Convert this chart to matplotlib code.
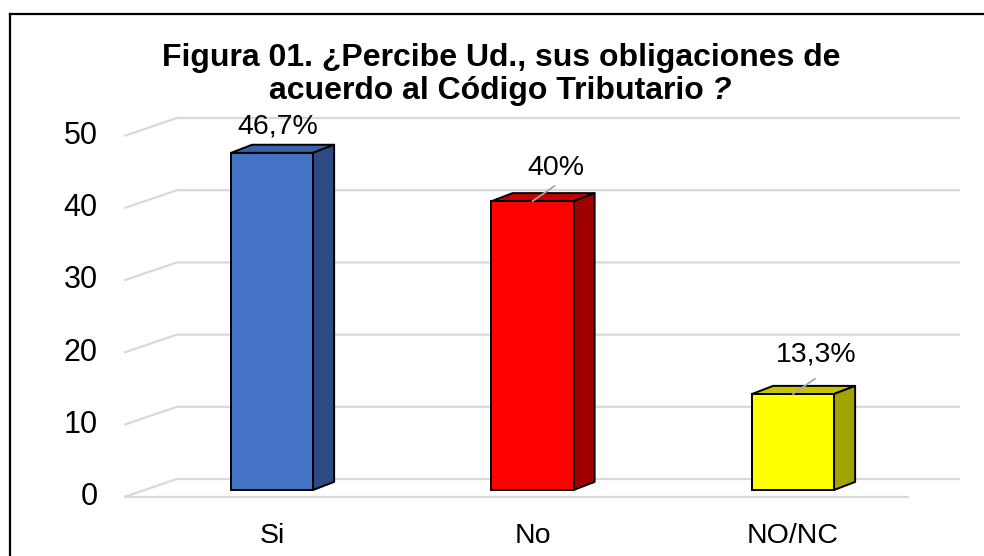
import matplotlib
matplotlib.use("Agg")
import matplotlib.pyplot as plt
from matplotlib.patches import Polygon
from matplotlib.lines import Line2D

# ---- data ----
categories = ["Si", "No", "NO/NC"]
values = [46.7, 40.0, 13.3]
value_labels = ["46,7%", "40%", "13,3%"]
y_ticks = [0, 10, 20, 30, 40, 50]
title_line1 = "Figura 01. ¿Percibe Ud., sus obligaciones de"
title_line2 = "acuerdo al Código Tributario"

# ---- style ----
front_colors = ["#4472C4", "#FF0000", "#FFFF00"]
top_colors = ["#3A62A8", "#C40000", "#C4C400"]
side_colors = ["#2C4B82", "#A00000", "#A3A300"]
label_offsets = [(0.023, 3.6, False), (0.088, 4.6, True), (0.088, 5.4, True)]
FONT = ["Liberation Sans", "DejaVu Sans"]
plt.rcParams["font.family"] = FONT

W, H = 984, 556
fig = plt.figure(figsize=(W / 100, H / 100), dpi=100)
fig.patch.set_facecolor("white")

# axes mapping: x pixel = 272 + 260.5*x ; y pixel = 490 - 7.22*v
xl = (-0.57, 2.65)
yl = (-1.5, 53.0)
px0 = 272 + 260.5 * xl[0]
px1 = 272 + 260.5 * xl[1]
py0 = 490 - 7.22 * yl[0]
py1 = 490 - 7.22 * yl[1]
ax = fig.add_axes([px0 / W, (H - py0) / H, (px1 - px0) / W, (py0 - py1) / H])
ax.set_xlim(*xl)
ax.set_ylim(*yl)
for s in ax.spines.values():
    s.set_visible(False)
ax.set_yticks([])

# 3D geometry constants (data units)
FL_X, BK_X, BK_XR, FL_XR = -0.568, -0.365, 2.641, 2.441
FRONT_DY, BACK_DY = -0.97, 1.52
grid_c = "#D9D9D9"

for v in y_ticks:
    ax.plot([FL_X, BK_X, BK_XR], [v + FRONT_DY, v + BACK_DY, v + BACK_DY],
            color=grid_c, lw=1.6, zorder=1, solid_capstyle="butt")
    ax.annotate(str(v), xy=(FL_X, v + FRONT_DY), xytext=(-19, 0),
                textcoords="offset points", ha="right", va="center",
                fontsize=22, color="black", annotation_clip=False)
ax.plot([FL_X, FL_XR], [FRONT_DY, FRONT_DY], color=grid_c, lw=1.6, zorder=1)

x = list(range(len(categories)))
bw = 0.315
ddx, ddy = 0.081, 1.12
bars = ax.bar(x, values, width=bw, color=front_colors, edgecolor="black",
              linewidth=1.4, zorder=3)
for i, b in enumerate(bars):
    x0 = b.get_x()
    x1 = x0 + b.get_width()
    h = b.get_height()
    top = Polygon([(x0, h), (x1, h), (x1 + ddx, h + ddy), (x0 + ddx, h + ddy)],
                  closed=True, facecolor=top_colors[i], edgecolor="black",
                  lw=1.4, zorder=2.9, joinstyle="round")
    side = Polygon([(x1, 0), (x1 + ddx, ddy), (x1 + ddx, h + ddy), (x1, h)],
                   closed=True, facecolor=side_colors[i], edgecolor="black",
                   lw=1.4, zorder=2.9, joinstyle="round")
    ax.add_patch(top)
    ax.add_patch(side)
    dx, dy, leader = label_offsets[i]
    cx = b.get_x() + b.get_width() / 2
    ax.text(cx + dx, h + dy, value_labels[i], ha="center", va="center",
            fontsize=20.5, color="black", zorder=5)
    if leader:
        ax.plot([cx, cx + 0.084], [h, h + 2.1], color="#A6A6A6", lw=1.3, zorder=4)

ax.set_xticks(x)
ax.set_xticklabels(categories, fontsize=20.5)
ax.tick_params(axis="x", length=0, pad=16)

# title
fig.text(501 / W, (H - 66) / H, title_line1, ha="center", va="baseline",
         fontsize=23, fontweight="bold")
r = fig.canvas.get_renderer()
t2 = fig.text(0, (H - 99) / H, title_line2, ha="left", va="baseline",
              fontsize=23, fontweight="bold")
q = fig.text(0, (H - 99) / H, "?", ha="left", va="baseline",
             fontsize=23, fontweight="bold", fontstyle="italic")
w1 = t2.get_window_extent(r).width
w2 = q.get_window_extent(r).width
gap = 7
start = 500 - (w1 + gap + w2) / 2
t2.set_x(start / W)
q.set_x((start + w1 + gap) / W)

# figure border (left + top)
fig.add_artist(Line2D([10 / W, 10 / W], [0, (H - 14) / H], color="black", lw=1.6))
fig.add_artist(Line2D([10 / W, 1], [(H - 14) / H, (H - 14) / H], color="black", lw=1.6))

fig.savefig("out.png", dpi=100)
